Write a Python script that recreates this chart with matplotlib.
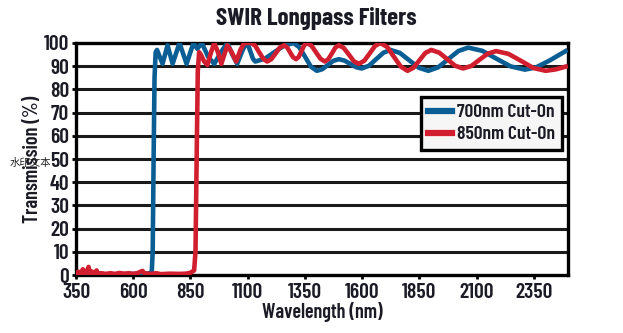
import matplotlib
matplotlib.use('Agg')
import matplotlib.pyplot as plt

# transmission curves (wavelength nm, transmission %)
blue_nm = [350, 400, 450, 500, 550, 600, 650, 675, 681, 685, 689, 693, 698,
           704, 728, 750, 772, 802, 833, 863, 880, 900, 927, 954, 983,
           1011, 1033, 1054, 1074, 1093, 1103, 1123, 1133, 1175, 1216, 1258,
           1300, 1325, 1351, 1376, 1402, 1426, 1450, 1474, 1498, 1523, 1548,
           1573, 1598, 1630, 1661, 1693, 1724, 1765, 1806, 1848, 1889, 1932,
           1976, 2020, 2063, 2125, 2187, 2249, 2311, 2360, 2420, 2489]
blue_T = [0.8, 0.5, 0.4, 0.3, 0.3, 0.5, 0.6, 0.8, 1.5, 10, 50, 85, 96,
          97, 91, 99, 91, 100, 91, 100, 97.5, 100, 94, 91, 96,
          100, 95, 91, 96, 100, 98.8, 93.2, 92, 93.2, 96, 98.8,
          100, 98.2, 94, 89.8, 88, 88.7, 90.5, 92.3, 93, 92.4, 91,
          89.6, 89, 90.2, 93, 95.8, 97, 95.7, 92.5, 89.3, 88, 89.5,
          93, 96.5, 98, 96.6, 93.2, 89.9, 88.5, 89.5, 92.5, 96.5]

red_nm = [350, 360, 370, 380, 385, 395, 405, 410, 420, 430, 440, 445,
          460, 480, 500, 520, 540, 560, 580, 600, 620, 640, 650, 680,
          700, 720, 760, 800, 830, 850, 866, 872, 877, 882, 888, 895,
          910, 924, 940, 954, 970, 985, 998, 1011, 1030, 1050, 1068,
          1085, 1100, 1115, 1133, 1150, 1168, 1185, 1203, 1222, 1240,
          1259, 1272, 1285, 1298, 1311, 1323, 1335, 1347, 1359, 1379,
          1398, 1418, 1437, 1452, 1468, 1483, 1498, 1520, 1542, 1563,
          1585, 1609, 1633, 1656, 1680, 1710, 1739, 1769, 1798, 1824,
          1850, 1876, 1902, 1937, 1972, 2006, 2041, 2077, 2113, 2149,
          2185, 2239, 2294, 2348, 2402, 2445, 2489]
red_T = [0.5, 1.5, 0.5, 2.5, 0.8, 1.0, 3.5, 0.8, 1.5, 0.5, 2.0, 0.6,
         0.8, 0.5, 0.8, 0.5, 0.9, 0.6, 0.8, 0.5, 0.9, 1.8, 0.7, 0.5,
         0.8, 0.4, 0.6, 0.5, 0.6, 1.0, 2, 10, 50, 88, 96, 95,
         92, 90.5, 96, 100, 96, 91, 95, 99, 96, 92, 97,
         100, 100, 100, 98.8, 96, 93.2, 92, 93, 95.5, 98,
         99, 98.1, 96, 93.9, 93, 94, 96.5, 99, 100, 98.8,
         96, 93.2, 92, 93, 95.5, 98, 99, 97.8, 95, 92.2,
         91, 92.3, 95.5, 98.7, 100, 98.2, 94, 89.8, 88, 89.3,
         92.5, 95.7, 97, 95.8, 93, 90.2, 89, 90.1, 92.8, 95.4,
         96.5, 95.3, 92.3, 89.2, 88, 88.6, 89.8]

x_ticks = [350, 600, 850, 1100, 1350, 1600, 1850, 2100, 2350]
y_ticks = list(range(0, 101, 10))
labels = ['700nm Cut-On', '850nm Cut-On']

blue = '#0b5e93'
red = '#d11f30'
ink = '#1b1b26'
font = 'Barlow Condensed'
wt = 600

fig = plt.figure(figsize=(6.23, 3.33), dpi=100)
ax = fig.add_axes([0.122, 0.174, 0.790, 0.697])

for y in y_ticks[1:-1]:
    ax.axhline(y, color='#1a1a1a', lw=2.2, zorder=1)

ax.plot(blue_nm, blue_T, color=blue, lw=3.3, solid_joinstyle='round',
        label=labels[0], zorder=3)
ax.plot(red_nm, red_T, color=red, lw=3.3, solid_joinstyle='round',
        label=labels[1], zorder=4)

ax.set_xlim(350, 2500)
ax.set_ylim(0, 100)
ax.set_xticks(x_ticks)
ax.set_yticks(y_ticks)
for sp in ax.spines.values():
    sp.set_linewidth(2.4)
    sp.set_color('black')
ax.tick_params(axis='both', length=3, width=2, color='black', pad=2)
ax.tick_params(axis='x', pad=3)
for lab in ax.get_xticklabels() + ax.get_yticklabels():
    lab.set_fontfamily(font)
    lab.set_fontweight(wt)
    lab.set_fontsize(15.5)
    lab.set_color(ink)

ax.set_xlabel('Wavelength (nm)', fontfamily=font, fontweight=wt,
              fontsize=14.5, color=ink, labelpad=0)
ax.set_ylabel('Transmission (%)', fontfamily=font, fontweight=wt,
              fontsize=14.5, color=ink, labelpad=1)
fig.text(0.508, 0.945, 'SWIR Longpass Filters', ha='center', va='center',
         fontfamily=font, fontweight=700, fontsize=18, color=ink)

leg = ax.legend(loc='upper right', bbox_to_anchor=(0.988, 0.767),
                prop={'family': font, 'weight': wt, 'size': 14},
                fancybox=False, framealpha=1, handlelength=1.2,
                handletextpad=0.3, borderpad=0.35, labelspacing=0.22,
                borderaxespad=0)
leg.get_frame().set_edgecolor('black')
leg.get_frame().set_linewidth(2.4)
leg.get_frame().set_facecolor('#f6f6f6')
for line in leg.get_lines():
    line.set_linewidth(4.5)
for t in leg.get_texts():
    t.set_color(ink)

# watermark text present in the source image
fig.text(0.016, 0.51, '水印文本', fontfamily=['Noto Sans CJK SC', 'DejaVu Sans'],
         fontsize=7.5, color='#222222', va='center', ha='left')

fig.savefig('out.png', dpi=100)
